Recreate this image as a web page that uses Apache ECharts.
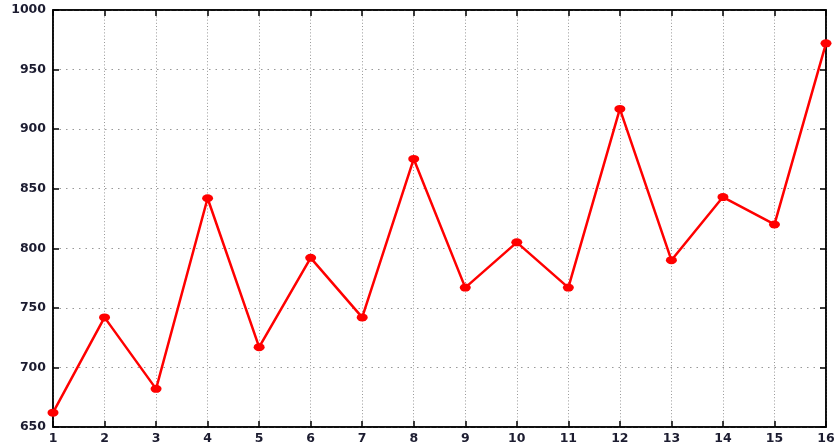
<!DOCTYPE html>
<html>
<head>
<meta charset="utf-8">
<script src="https://cdn.jsdelivr.net/npm/echarts@6/dist/echarts.min.js"></script>
<style>
html,body{margin:0;padding:0;background:#fff;}
#chart{width:838px;height:446px;}
</style>
</head>
<body>
<div id="chart"></div>
<script>
var xValues = [1,2,3,4,5,6,7,8,9,10,11,12,13,14,15,16];
var yValues = [662,742,682,842,717,792,742,875,767,805,767,917,790,843,820,972];

var chart = echarts.init(document.getElementById('chart'));
var pts = xValues.map(function(x,i){return [x, yValues[i]];});
var labelStyle = {color:'#1c1c30', fontFamily:'DejaVu Sans, sans-serif', fontSize:12.5, fontWeight:'bold'};
var axisLineStyle = {show:true, onZero:false, lineStyle:{color:'#000', width:1.5}};
var tickStyle = {show:true, inside:true, length:6, lineStyle:{color:'#000', width:1.5}};
chart.setOption({
  animation:false,
  grid:{left:53, right:12, top:10, bottom:19, show:true, borderColor:'#000', borderWidth:1.5},
  xAxis:[{
    type:'value', min:1, max:16, interval:1,
    axisLine:axisLineStyle, axisTick:tickStyle,
    axisLabel:Object.assign({margin:5, formatter:function(v){return String(v);}}, labelStyle),
    splitLine:{show:true, lineStyle:{color:'#999', type:[1,2.2], width:1}}
  },{
    type:'value', min:1, max:16, interval:1, position:'top',
    axisLine:axisLineStyle, axisTick:tickStyle,
    axisLabel:{show:false}, splitLine:{show:false}
  }],
  yAxis:[{
    type:'value', min:650, max:1000, interval:50,
    axisLine:axisLineStyle, axisTick:tickStyle,
    axisLabel:Object.assign({margin:7, formatter:function(v){return String(v);}}, labelStyle),
    splitLine:{show:true, lineStyle:{color:'#999', type:[1.5,5], width:1}}
  },{
    type:'value', min:650, max:1000, interval:50, position:'right',
    axisLine:axisLineStyle, axisTick:tickStyle,
    axisLabel:{show:false}, splitLine:{show:false}
  }],
  series:[{
    type:'line', xAxisIndex:0, yAxisIndex:0, data:pts,
    symbol:'circle', symbolSize:[11,8], showAllSymbol:true,
    lineStyle:{color:'#ff0000', width:2.5},
    itemStyle:{color:'#ff0000'},
    clip:false
  }]
});
</script>
</body>
</html>
